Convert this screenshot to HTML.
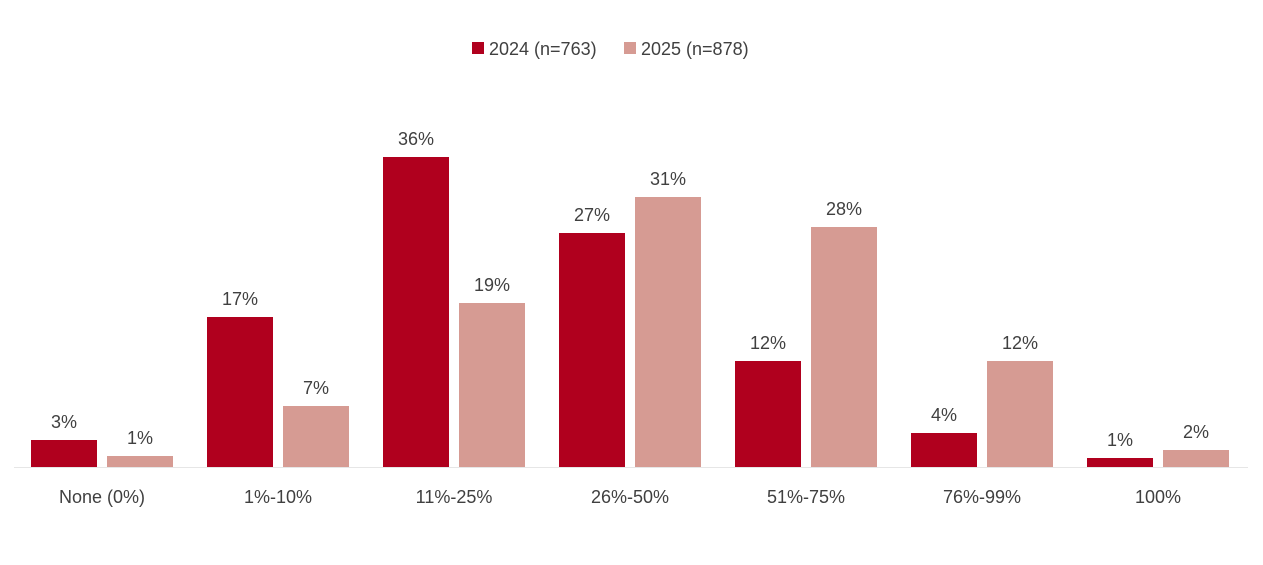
<!DOCTYPE html>
<html><head><meta charset="utf-8"><style>
html,body{margin:0;padding:0;background:#fff;}
svg text{font-family:"Liberation Sans",sans-serif;fill:#404040;}
</style></head><body>
<svg width="1263" height="560" viewBox="0 0 1263 560" xmlns="http://www.w3.org/2000/svg">
<rect x="472" y="42" width="12" height="12" fill="#B0001E"/>
<text x="489" y="55" font-size="18">2024 (n=763)</text>
<rect x="624" y="42" width="12" height="12" fill="#D69B93"/>
<text x="641" y="55" font-size="18">2025 (n=878)</text>
<line x1="14" y1="467.5" x2="1248" y2="467.5" stroke="#e6e6e6" stroke-width="1"/>
<g font-size="18" text-anchor="middle">
<rect x="31" y="440" width="66" height="27" fill="#B0001E"/><text x="64" y="428">3%</text>
<rect x="107" y="456" width="66" height="11" fill="#D69B93"/><text x="140" y="444">1%</text>
<rect x="207" y="317" width="66" height="150" fill="#B0001E"/><text x="240" y="305">17%</text>
<rect x="283" y="406" width="66" height="61" fill="#D69B93"/><text x="316" y="394">7%</text>
<rect x="383" y="157" width="66" height="310" fill="#B0001E"/><text x="416" y="145">36%</text>
<rect x="459" y="303" width="66" height="164" fill="#D69B93"/><text x="492" y="291">19%</text>
<rect x="559" y="233" width="66" height="234" fill="#B0001E"/><text x="592" y="221">27%</text>
<rect x="635" y="197" width="66" height="270" fill="#D69B93"/><text x="668" y="185">31%</text>
<rect x="735" y="361" width="66" height="106" fill="#B0001E"/><text x="768" y="349">12%</text>
<rect x="811" y="227" width="66" height="240" fill="#D69B93"/><text x="844" y="215">28%</text>
<rect x="911" y="433" width="66" height="34" fill="#B0001E"/><text x="944" y="421">4%</text>
<rect x="987" y="361" width="66" height="106" fill="#D69B93"/><text x="1020" y="349">12%</text>
<rect x="1087" y="458" width="66" height="9" fill="#B0001E"/><text x="1120" y="446">1%</text>
<rect x="1163" y="450" width="66" height="17" fill="#D69B93"/><text x="1196" y="438">2%</text>
<text x="102" y="503">None (0%)</text>
<text x="278" y="503">1%-10%</text>
<text x="454" y="503">11%-25%</text>
<text x="630" y="503">26%-50%</text>
<text x="806" y="503">51%-75%</text>
<text x="982" y="503">76%-99%</text>
<text x="1158" y="503">100%</text>
</g>
</svg>
</body></html>
